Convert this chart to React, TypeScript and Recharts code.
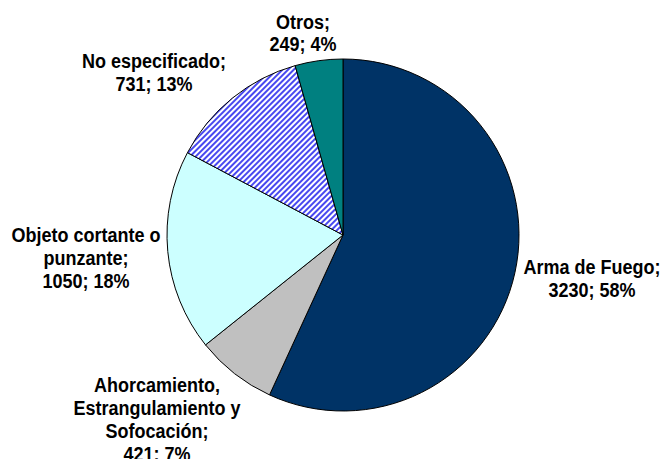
import { PieChart, Pie, Cell } from "recharts";

// categories (line breaks = how the labels wrap in the original)
const CATEGORIES = [
  "Arma de Fuego",
  "Ahorcamiento,\nEstrangulamiento y\nSofocación",
  "Objeto cortante o\npunzante",
  "No especificado",
  "Otros",
];
const VALUES = [3230, 421, 1050, 731, 249];
// percentages as printed on the chart
const PERCENTS = [58, 7, 18, 13, 4];

const COLORS = ["#003366", "#C0C0C0", "#CCFFFF", "url(#hatchBlue)", "#008080"];

// label placement: angle shift (deg) from slice middle, distance as multiple of radius
const LABEL_PLACE = [
  { dAngle: 2.54, k: 1.436 },
  { dAngle: -7.13, k: 1.49 },
  { dAngle: -0.26, k: 1.466 },
  { dAngle: 10.29, k: 1.418 },
  { dAngle: 3.31, k: 1.17 },
];

const data = CATEGORIES.map((name, i) => ({ name, value: VALUES[i], pct: PERCENTS[i] }));

const RAD = Math.PI / 180;
const LINE_H = 23;
const STRETCH = 1.08; // labels in the original are a bit taller than plain Arial

const renderLabel = (props: any) => {
  const { cx, cy, midAngle, outerRadius, index } = props;
  const place = LABEL_PLACE[index];
  const ang = (midAngle + place.dAngle) * RAD;
  const r = outerRadius * place.k;
  const x = cx + r * Math.cos(ang);
  const y = cy - r * Math.sin(ang);
  const d = data[index];
  const lines = (d.name + ";").split("\n");
  lines.push(`${d.value}; ${d.pct}%`);
  const firstBase = (7 - ((lines.length - 1) * LINE_H) / 2) / STRETCH;
  return (
    <text
      key={`lbl-${index}`}
      transform={`translate(${x},${y}) scale(1,${STRETCH})`}
      x={0}
      y={firstBase}
      textAnchor="middle"
      fill="#000"
      style={{ fontFamily: "'Liberation Sans', Arial, sans-serif", fontWeight: "bold", fontSize: 18 }}
    >
      {lines.map((ln, j) => (
        <tspan key={j} x={0} y={firstBase + (j * LINE_H) / STRETCH}>
          {ln}
        </tspan>
      ))}
    </text>
  );
};

export default function App() {
  return (
    <div style={{ position: "absolute", left: 0, top: 0, width: 663, height: 459, background: "#fff" }}>
      <svg width={0} height={0} style={{ position: "absolute" }}>
        <defs>
          <pattern id="hatchBlue" patternUnits="userSpaceOnUse" width={4} height={4} patternTransform="rotate(45)">
            <rect width={4} height={4} fill="#ffffff" />
            <line x1={1} y1={0} x2={1} y2={4} stroke="#4848f0" strokeWidth={2} />
          </pattern>
        </defs>
      </svg>
      <PieChart width={663} height={459} margin={{ top: 0, right: 0, bottom: 0, left: 0 }}>
        <Pie
          data={data}
          dataKey="value"
          nameKey="name"
          cx={343}
          cy={235}
          outerRadius={176}
          startAngle={90}
          endAngle={-270}
          stroke="#000"
          strokeWidth={1}
          label={renderLabel}
          labelLine={false}
          isAnimationActive={false}
        >
          {data.map((d, i) => (
            <Cell key={d.name} fill={COLORS[i]} />
          ))}
        </Pie>
      </PieChart>
    </div>
  );
}
